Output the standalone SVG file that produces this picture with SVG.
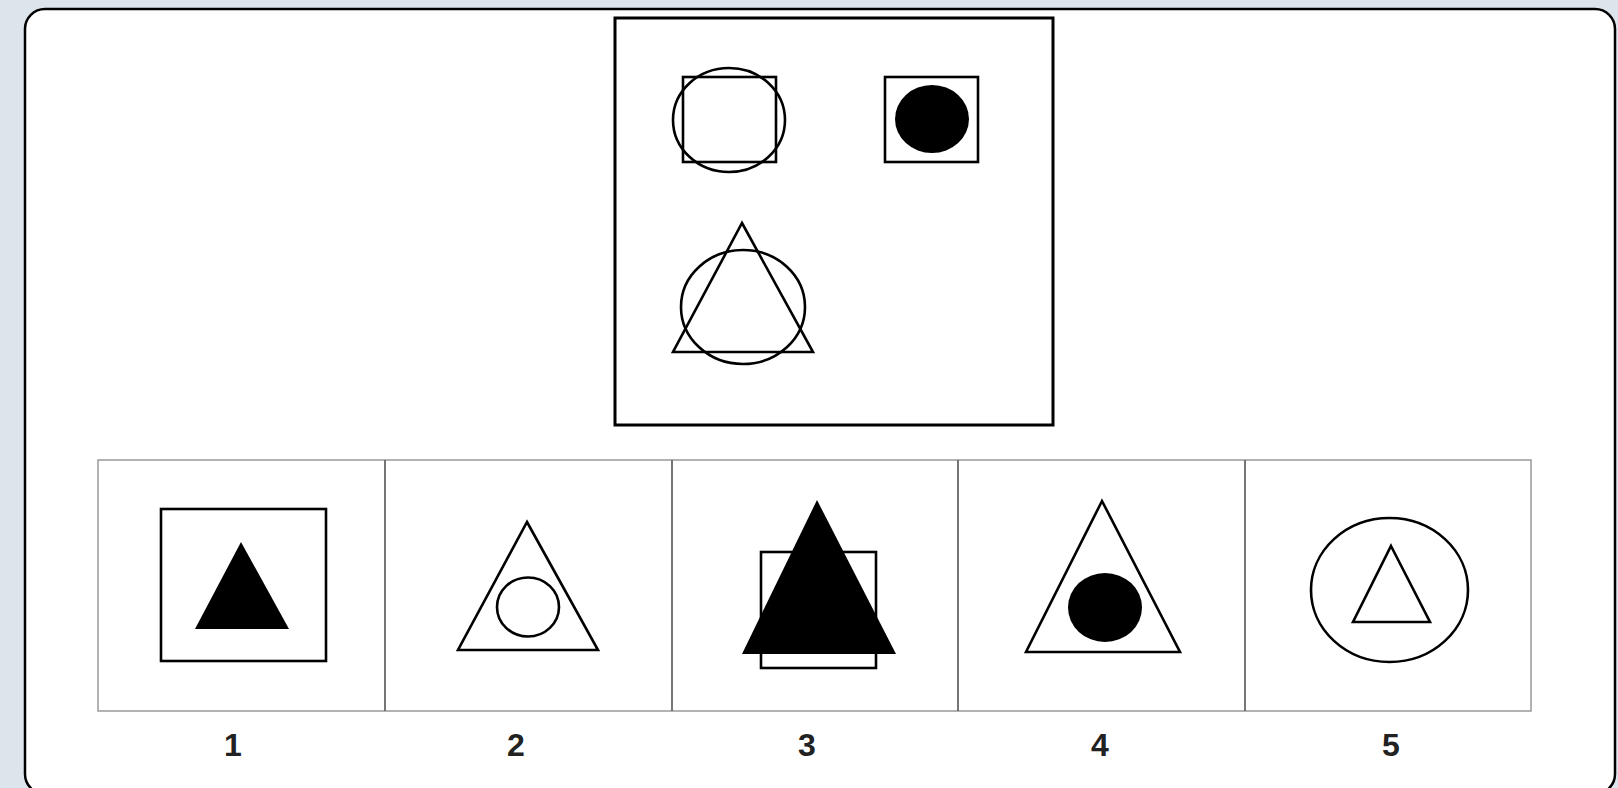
<svg xmlns="http://www.w3.org/2000/svg" width="1618" height="788" viewBox="0 0 1618 788">
<style>
.o{fill:none;stroke:#000;stroke-width:2.6}
.f{fill:#000;stroke:none}
.cell{fill:#fff;stroke:#999;stroke-width:1.5}
.div{stroke:#666;stroke-width:1.8}
.lbl{font-family:"Liberation Sans",Arial,sans-serif;font-weight:bold;font-size:32px;fill:#222;text-anchor:middle}
</style>
<rect x="0" y="0" width="1618" height="788" fill="#dde5ec"/>
<rect x="25" y="9" width="1590" height="785" rx="20" ry="20" fill="#fff" stroke="#000" stroke-width="2.5"/>
<g id="question">
<rect x="615" y="18" width="438" height="407" fill="#fff" stroke="#000" stroke-width="3"/>
<rect class="o" x="683" y="77" width="93" height="85"/>
<ellipse class="o" cx="729" cy="120" rx="56" ry="52"/>
<rect class="o" x="885" y="77" width="93" height="85"/>
<ellipse class="f" cx="932" cy="119" rx="37" ry="34"/>
<polygon class="o" points="742,223 813,352 673,352"/>
<ellipse class="o" cx="743" cy="307" rx="62" ry="57"/>
</g>
<g id="options">
<rect class="cell" x="98" y="460" width="1433" height="251"/>
<line class="div" x1="385" y1="460" x2="385" y2="711"/>
<line class="div" x1="672" y1="460" x2="672" y2="711"/>
<line class="div" x1="958" y1="460" x2="958" y2="711"/>
<line class="div" x1="1245" y1="460" x2="1245" y2="711"/>
</g>
<g id="option1">
<rect class="o" x="161" y="509" width="165" height="152"/>
<polygon class="f" points="241,542 289,629 195,629"/>
<text class="lbl" x="233" y="756">1</text>
</g>
<g id="option2">
<polygon class="o" points="527,522 598,650 458,650"/>
<ellipse class="o" cx="528" cy="607" rx="31" ry="29.5"/>
<text class="lbl" x="516" y="756">2</text>
</g>
<g id="option3">
<rect class="o" x="761" y="552" width="115" height="116"/>
<polygon class="f" points="817,500 896,654 742,654"/>
<text class="lbl" x="807" y="756">3</text>
</g>
<g id="option4">
<polygon class="o" points="1102,501 1180,652 1026,652"/>
<ellipse class="f" cx="1105" cy="607.5" rx="37" ry="34.5"/>
<text class="lbl" x="1100" y="756">4</text>
</g>
<g id="option5">
<ellipse class="o" cx="1389.5" cy="590" rx="78.5" ry="72"/>
<polygon class="o" points="1391,546 1430,622 1353,622"/>
<text class="lbl" x="1391" y="756">5</text>
</g>
</svg>
